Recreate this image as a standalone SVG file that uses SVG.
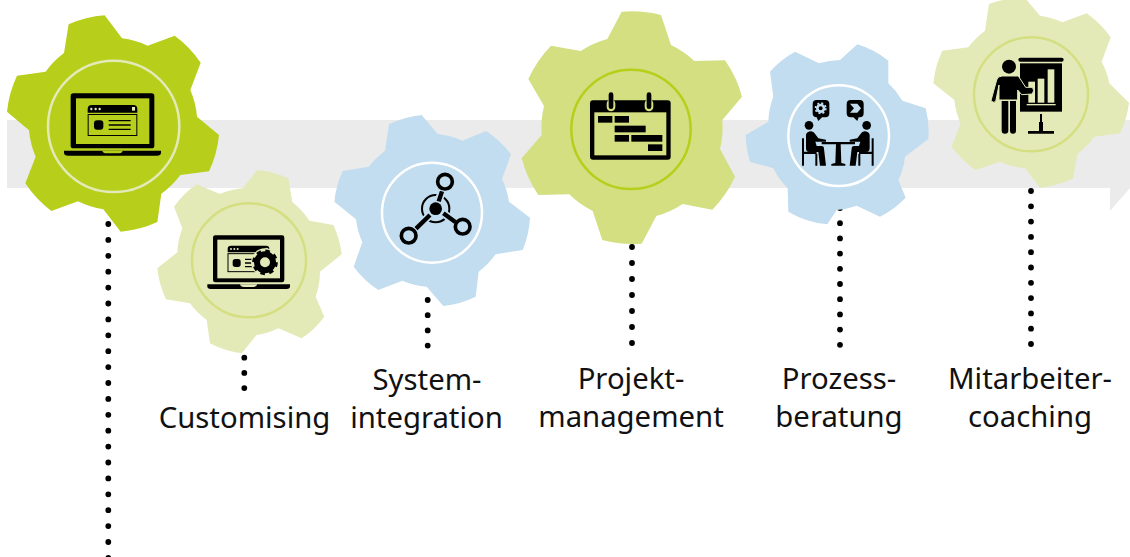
<svg xmlns="http://www.w3.org/2000/svg" width="1130" height="557" viewBox="0 0 1130 557">
<style>
text{font-family:"Noto Sans","Open Sans","Liberation Sans",sans-serif;font-size:29.3px;fill:#111;text-anchor:middle}
.dots{fill:none;stroke:#000;stroke-width:5.8;stroke-linecap:round}
.ring{fill:none;stroke-width:7.5}
.k{fill:#000}
.l{fill:none;stroke:#000}
</style>
<rect x="7" y="120" width="1123" height="68" fill="#ebebeb"/>
<polygon points="1110,188 1130,188 1110,211" fill="#ebebeb"/>
<g id="connectors">
<path class="dots" d="M108.300,224V562" stroke-dasharray="0 15.900"/>
<path class="dots" d="M244.300,357.700V389" stroke-dasharray="0 15.200"/>
<path class="dots" d="M427.700,300V346" stroke-dasharray="0 15.200"/>
<path class="dots" d="M632,247V344" stroke-dasharray="0 16"/>
<path class="dots" d="M840,208V345" stroke-dasharray="0 15.200"/>
<path class="dots" d="M1031,191V345" stroke-dasharray="0 15.300"/>
</g>
<g id="node-main" transform="scale(.33333)">
<path fill="#b7ce1a" d="M314,46L366,115A256,256 0 0 1 443,137L524,107A325,325 0 0 1 602,188L571,270A256,256 0 0 1 591,350L657,405A325,325 0 0 1 627,514L541,525A256,256 0 0 1 484,581L472,666A325,325 0 0 1 362,695L310,628A256,256 0 0 1 234,604L154,633A325,325 0 0 1 76,550L107,470A256,256 0 0 1 87,391L21,335A325,325 0 0 1 51,227L137,215A256,256 0 0 1 192,159L206,73A325,325 0 0 1 314,46Z"/>
<circle class="ring" cx="341" cy="379" r="197" stroke="#e3eab8"/>
<rect class="k" x="212" y="280" width="251" height="165" rx="8"/>
<rect x="228" y="295" width="220" height="137" fill="#b7ce1a"/>
<path class="k" d="M192,452H483V458Q483,467 470,467H205Q192,467 192,458Z"/>
<path fill="#b7ce1a" d="M307,452H368Q366,460 355,460H320Q309,460 307,452Z"/>
<path class="k" d="M263,338V327Q263,315 275,315H400Q412,315 412,327V338Z"/>
<rect class="l" x="264.500" y="343.500" width="146" height="63" stroke-width="3"/>
<g fill="#e3eab8"><circle cx="274" cy="327" r="3.500"/><circle cx="287" cy="327" r="3.500"/><circle cx="299" cy="327" r="3.500"/><rect x="396" y="321" width="9" height="11"/></g>
<rect class="k" x="282" y="361" width="28" height="28" rx="9"/>
<path class="l" stroke-width="4" d="M326,362H392M326,375H392M326,388H392"/>
</g>
<g id="node-customising">
<g transform="translate(150,165) scale(.33333)">
<path fill="#e3eab8" d="M322,15A276,276 0 0 1 415,40L427,112A220,220 0 0 1 478,167L550,180A276,276 0 0 1 575,268L510,320A220,220 0 0 1 497,395L523,455A276,276 0 0 1 455,520L385,490A220,220 0 0 1 320,510L275,565A276,276 0 0 1 180,535L170,465A220,220 0 0 1 120,415L48,403A276,276 0 0 1 22,310L82,262A220,220 0 0 1 97,190L72,125A276,276 0 0 1 140,58L210,87A220,220 0 0 1 278,70Z"/>
<circle class="ring" cx="297" cy="286" r="171" stroke="#d3df80"/>
<rect class="k" x="189" y="211" width="214" height="141" rx="7"/>
<rect x="202" y="224" width="188" height="116" fill="#e3eab8"/>
<path class="k" d="M172,358H420V364Q420,372 410,372H182Q172,372 172,364Z"/>
<path fill="#e3eab8" d="M270,358H322Q320,366 310,366H282Q272,366 270,358Z"/>
<path class="k" d="M233,262V252Q233,242 243,242H348Q358,242 358,252V262Z"/>
<rect class="l" x="234" y="266" width="100" height="54" stroke-width="3"/>
<g fill="#e3eab8"><circle cx="243" cy="252" r="3"/><circle cx="253" cy="252" r="3"/><circle cx="263" cy="252" r="3"/><circle cx="350" cy="252" r="4"/></g>
<rect class="k" x="248" y="282" width="24" height="24" rx="8"/>
<path class="l" stroke-width="4" d="M285,283H320M285,294H315M285,305H315"/>
<circle cx="345" cy="292" r="42" fill="#e3eab8"/>
<circle cx="345" cy="292" r="24" fill="none" stroke="#000" stroke-width="18"/>
<circle cx="345" cy="292" r="33" fill="none" stroke="#000" stroke-width="11" stroke-dasharray="13 12.920"/>
</g>
<text x="244.500" y="427.500">Customising</text>
</g>
<g id="node-systemintegration">
<g transform="translate(330,110) scale(.33333)">
<path fill="#c2ddef" d="M275,15L323,72A232,232 0 0 1 397,92L468,63A290,290 0 0 1 543,133L516,207A232,232 0 0 1 537,275L600,323A290,290 0 0 1 578,420L497,433A232,232 0 0 1 446,485L437,560A290,290 0 0 1 340,588L290,530A232,232 0 0 1 217,512L145,540A290,290 0 0 1 71,470L97,397A232,232 0 0 1 78,328L13,275A290,290 0 0 1 38,183L116,170A232,232 0 0 1 165,122L177,43A290,290 0 0 1 275,15Z"/>
<circle class="ring" cx="306" cy="308" r="150" stroke="#fff"/>
<circle cx="317" cy="296" r="41" fill="none" stroke="#000" stroke-width="6"/>
<path fill="none" stroke="#c2ddef" stroke-width="24" d="M326,270L336,244M340,310L376,336M300,315L258,356"/>
<g class="l" stroke-width="11">
<circle cx="345" cy="215" r="22"/>
<circle cx="398" cy="350" r="22"/>
<circle cx="236" cy="377" r="22"/>
<path stroke-width="13" d="M336,244L326,274M340,310L376,336M300,315L258,356"/>
</g>
<circle class="k" cx="317" cy="296" r="19"/>
</g>
<text x="427" y="389.500">System-</text>
<text x="426.500" y="427.500">integration</text>
</g>
<g id="node-projektmanagement">
<g transform="translate(515,5) scale(.33333)">
<path fill="#d3df80" d="M320,20A349,349 0 0 1 438,30L468,120A275,275 0 0 1 538,168L630,166A349,349 0 0 1 681,275L622,345A275,275 0 0 1 615,432L660,515A349,349 0 0 1 592,614L503,597A275,275 0 0 1 424,633L380,716A349,349 0 0 1 262,705L233,618A275,275 0 0 1 163,568L70,570A349,349 0 0 1 20,460L80,390A275,275 0 0 1 87,303L40,222A349,349 0 0 1 108,122L197,138A275,275 0 0 1 277,102Z"/>
<circle class="ring" cx="348" cy="373" r="179" stroke="#b7ce1a"/>
<rect class="k" x="225" y="286" width="242" height="178" rx="9"/>
<rect x="238" y="322" width="216" height="129" fill="#d3df80"/>
<rect x="275" y="283" width="26" height="36" rx="13" fill="#d3df80"/>
<rect x="389" y="283" width="26" height="36" rx="13" fill="#d3df80"/>
<rect class="k" x="281" y="262" width="14" height="50" rx="7"/>
<rect class="k" x="395" y="262" width="14" height="50" rx="7"/>
<g class="k"><rect x="249" y="333" width="43" height="20"/><rect x="299" y="333" width="43" height="20"/><rect x="299" y="362" width="93" height="20"/><rect x="299" y="390" width="43" height="20"/><rect x="349" y="390" width="93" height="20"/><rect x="399" y="418" width="43" height="20"/></g>
</g>
<text x="631" y="389">Projekt-</text>
<text x="631" y="427">management</text>
</g>
<g id="node-prozessberatung">
<g transform="translate(740,40) scale(.33333)">
<path fill="#c2ddef" d="M352,13A278,278 0 0 1 445,62L445,130A220,220 0 0 1 487,182L557,205A278,278 0 0 1 565,297L495,350A220,220 0 0 1 475,420L497,473A278,278 0 0 1 420,530L350,497A220,220 0 0 1 290,510L262,553A278,278 0 0 1 145,515L143,445A220,220 0 0 1 100,385L30,365A278,278 0 0 1 17,285L85,245A220,220 0 0 1 100,170L90,95A278,278 0 0 1 165,35L237,70A220,220 0 0 1 300,60Z"/>
<circle class="ring" cx="296" cy="287" r="151" stroke="#fff"/>
<path class="k" d="M230,180H256Q268,180 268,192V220Q268,232 256,232H246L235,243L230,232Q218,232 218,220V192Q218,180 230,180Z"/>
<circle cx="242" cy="205" r="10" fill="none" stroke="#c2ddef" stroke-width="8"/>
<circle cx="242" cy="205" r="15.500" fill="none" stroke="#c2ddef" stroke-width="5" stroke-dasharray="6 6.170"/>
<path class="k" d="M332,180H359Q371,180 371,192V220Q371,232 359,232H356L352,243L340,232H332Q320,232 320,220V192Q320,180 332,180Z"/>
<path fill="#c2ddef" d="M330,191H352L363,205L352,218H330L342,205Z"/>
<g id="person">
<circle class="k" cx="207" cy="256" r="13"/>
<path class="k" d="M198,285Q200,274 214,274Q222,275 226,283L235,295L258,299V305H226L230,318H245Q252,318 252,326L258,377H240L235,336H208Q198,336 198,325Z"/>
<path class="k" d="M186,295H192V335H230V342H232V377H226V342H192V377H186Z"/>
</g>
<use href="#person" transform="translate(587,0) scale(-1,1)"/>
<path class="k" d="M245,306H345V313H302L304,369L316,372V377H274V372L286,369L288,313H245Z"/>
</g>
<text x="839" y="389">Prozess-</text>
<text x="839" y="427">beratung</text>
</g>
<g id="node-mitarbeitercoaching">
<g transform="translate(925,0) scale(.33333)">
<path fill="#e3eab8" d="M192,12A287,287 0 0 1 300,-6L345,47A225,225 0 0 1 412,67L485,40A287,287 0 0 1 557,112L530,185A225,225 0 0 1 553,250L612,308A287,287 0 0 1 585,400L507,410A225,225 0 0 1 457,462L445,535A287,287 0 0 1 345,563L300,505A225,225 0 0 1 225,485L152,510A287,287 0 0 1 80,440L107,370A225,225 0 0 1 88,300L25,250A287,287 0 0 1 52,152L130,142A225,225 0 0 1 180,92Z"/>
<circle class="ring" cx="318" cy="283" r="171" stroke="#d3df80"/>
<rect class="k" x="280" y="173" width="136" height="12" rx="6"/>
<rect class="k" x="285" y="190" width="126" height="145"/>
<g fill="#e3eab8"><rect x="310" y="245" width="20" height="63"/><rect x="338" y="236" width="20" height="72"/><rect x="368" y="208" width="20" height="100"/><rect x="305" y="312" width="87" height="4"/></g>
<path class="k" d="M345,342H351V366H354V393H387V401H309V393H342V366H345Z"/>
<path d="M280,228L302,262L322,262Q330,270 322,282L290,284L278,270V300H222V255L212,305Q205,310 198,302L215,240Q218,228 232,228Z" fill="#000" stroke="#e3eab8" stroke-width="3"/>
<circle class="k" cx="252" cy="200" r="21"/>
<path class="k" d="M230,303H250V392Q250,401 240,401Q230,401 230,392ZM255,303H273V392Q273,401 264,401Q255,401 255,392Z"/>
</g>
<text x="1030" y="389">Mitarbeiter-</text>
<text x="1030" y="427">coaching</text>
</g>
</svg>
